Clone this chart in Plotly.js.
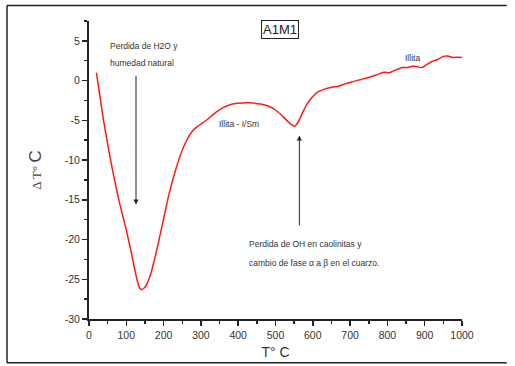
<!DOCTYPE html>
<html>
<head>
<meta charset="utf-8">
<script src="https://cdn.plot.ly/plotly-3.0.1.min.js"></script>
<style>html,body{margin:0;padding:0;background:#fff;overflow:hidden;}#chart{width:515px;height:366px;}</style>
</head>
<body>
<div id="chart"></div>
<script>
// Temperature (°C)
const temperature = [20, 40, 60, 80, 100, 115, 125, 133, 140, 148, 155, 165, 175, 185, 200, 215, 230, 245, 260, 275, 290, 305, 320, 340, 360, 380, 400, 430, 460, 480, 500, 515, 530, 542, 550, 557, 565, 575, 585, 600, 615, 630, 650, 670, 690, 710, 730, 750, 770, 790, 805, 820, 840, 855, 870, 880, 893, 905, 920, 935, 950, 962, 975, 990, 1000];
// Delta T (°C)
const deltaT = [1.0, -5.3, -10.5, -15.0, -18.8, -22.0, -24.3, -25.8, -26.3, -26.1, -25.6, -24.4, -22.6, -20.6, -17.4, -14.2, -11.6, -9.4, -7.7, -6.5, -5.8, -5.3, -4.8, -4.0, -3.4, -3.0, -2.85, -2.8, -2.95, -3.2, -3.7, -4.3, -5.0, -5.5, -5.75, -5.5, -4.8, -3.8, -2.9, -2.0, -1.4, -1.1, -0.85, -0.7, -0.35, -0.1, 0.15, 0.4, 0.7, 1.05, 1.0, 1.3, 1.65, 1.65, 1.85, 1.75, 1.65, 2.0, 2.4, 2.65, 3.05, 3.1, 2.9, 2.95, 2.9];

const xTickVals = [0, 100, 200, 300, 400, 500, 600, 700, 800, 900, 1000];
const xTickText = ['0', '100', '200', '300', '400', '500', '600', '700', '800', '900', '1000'];
const yTickVals = [-30, -25, -20, -15, -10, -5, 0, 5];
const yTickText = ['-30', '-25', '-20', '-15', '-10', '-5', '0', '5'];

const chartTitle = 'A1M1';
const xTitle = 'T° C';
const yTitle = 'Δ T° <span style="font-size:17px;font-family:Liberation Sans">C</span>';
const noteH2O = ['Perdida de H2O y', 'humedad natural'];
const noteOH = ['Perdida de OH en caolinitas y', 'cambio de fase α a β en el cuarzo.'];
const noteIllitaSm = 'Illita - I/Sm';
const noteIllita = 'Illita';

function textFont() {
  return {family: 'Liberation Sans, Arial, sans-serif', size: 8.5, color: '#333333'};
}
function note(x, y, text) {
  return {x: x, y: y, xref: 'x', yref: 'y', text: text, showarrow: false,
          xanchor: 'left', yanchor: 'middle', font: textFont()};
}
function axisCommon() {
  return {
    showgrid: false, zeroline: false, showline: true, linecolor: '#222', linewidth: 2,
    ticks: 'outside', ticklen: 5, tickwidth: 1.5, tickcolor: '#222',
    tickfont: {family: 'Liberation Sans, Arial, sans-serif', size: 10.5, color: '#333'},
    tickmode: 'array', mirror: false
  };
}
function frameLine(x0, y0, x1, y1) {
  return {type: 'line', xref: 'paper', yref: 'paper', x0: x0, y0: y0, x1: x1, y1: y1,
          line: {color: '#222', width: 1.5}, layer: 'below'};
}

const trace = {
  x: temperature, y: deltaT, type: 'scatter', mode: 'lines',
  line: {color: '#ff1a1a', width: 1.5, shape: 'spline', smoothing: 0.6},
  hoverinfo: 'skip'
};

const frameX0 = -0.2198, frameX1 = 1.12, frameY0 = -0.147, frameY1 = 1.052;

const layout = {
  width: 515, height: 366,
  margin: {l: 89, r: 53, t: 21, b: 47},
  paper_bgcolor: '#fff', plot_bgcolor: '#fff',
  showlegend: false,
  xaxis: Object.assign(axisCommon(), {
    range: [0, 1000], tickvals: xTickVals, ticktext: xTickText,
    minor: {tickmode: 'linear', tick0: 0, dtick: 50, ticks: 'outside', ticklen: 3, tickwidth: 1.5, tickcolor: '#222'},
    title: {text: xTitle, font: {family: 'Liberation Sans, Arial, sans-serif', size: 14, color: '#333'}, standoff: 8}
  }),
  yaxis: Object.assign(axisCommon(), {
    range: [-30, 7.5], tickvals: yTickVals, ticktext: yTickText,
    minor: {tickmode: 'linear', tick0: 0, dtick: 2.5, ticks: 'outside', ticklen: 3, tickwidth: 1.5, tickcolor: '#222'},
    title: {text: yTitle, font: {family: 'Liberation Serif, Times New Roman, serif', size: 13, color: '#444'}, standoff: 20}
  }),
  shapes: [
    frameLine(frameX0, frameY0, frameX0, frameY1),
    frameLine(frameX0, frameY1, frameX1, frameY1),
    frameLine(frameX0, frameY0, frameX1, frameY0)
  ],
  annotations: [
    {xref: 'paper', yref: 'paper', x: 0.513, y: 0.973, text: chartTitle, showarrow: false,
     font: {family: 'Liberation Sans, Arial, sans-serif', size: 13, color: '#222'},
     bordercolor: '#222', borderwidth: 1, borderpad: 1, xanchor: 'center', yanchor: 'middle'},
    note(52, 4.4, noteH2O[0]),
    note(52, 2.25, noteH2O[1]),
    note(342, -5.4, noteIllitaSm),
    note(842, 2.85, noteIllita),
    note(423, -20.6, noteOH[0]),
    note(423, -22.9, noteOH[1]),
    {x: 126, y: -15.6, ax: 126, ay: 0.8, xref: 'x', yref: 'y', axref: 'x', ayref: 'y', text: '', showarrow: true,
     arrowhead: 2, arrowsize: 1, arrowwidth: 1, arrowcolor: '#222'},
    {x: 564, y: -6.9, ax: 564, ay: -18.4, xref: 'x', yref: 'y', axref: 'x', ayref: 'y', text: '', showarrow: true,
     arrowhead: 2, arrowsize: 1, arrowwidth: 1, arrowcolor: '#222'}
  ]
};

Plotly.newPlot('chart', [trace], layout, {staticPlot: true, displayModeBar: false});
</script>
</body>
</html>
